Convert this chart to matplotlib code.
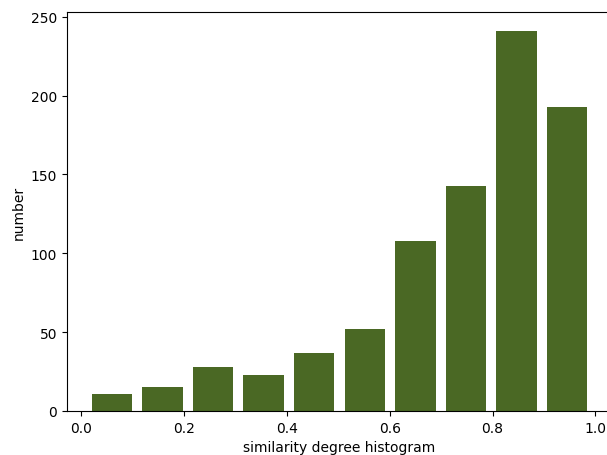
import numpy as np
import matplotlib
matplotlib.use("Agg")
import matplotlib.pyplot as plt

# histogram counts per bin
counts = [11, 15, 28, 23, 37, 52, 108, 143, 241, 193]
edges = np.linspace(0.011, 0.994, 11)
centers = (edges[:-1] + edges[1:]) / 2

fig = plt.figure(figsize=(6.07, 4.56), dpi=100)
ax = fig.add_axes([67 / 607, 44 / 456, 0.898, (412 - 13) / 456])

ax.hist(centers, bins=edges, weights=counts, rwidth=0.8, color='#4a6824')

ax.set_xlabel("similarity degree histogram")
ax.set_ylabel("number")

plt.savefig("out.png", dpi=100)
